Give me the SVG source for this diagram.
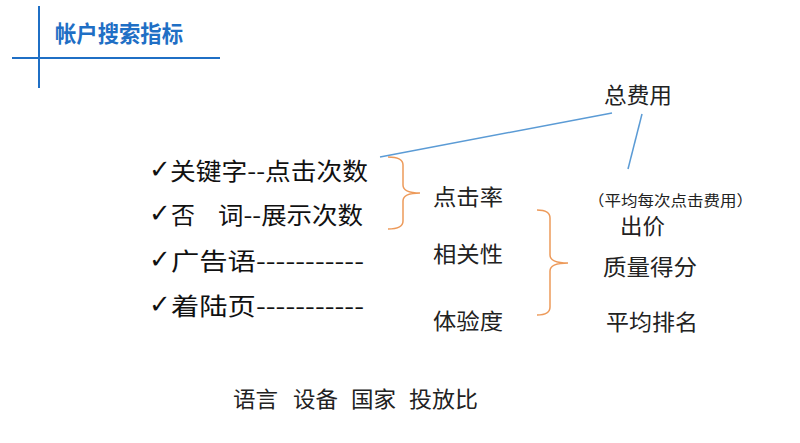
<svg xmlns="http://www.w3.org/2000/svg" width="800" height="443" viewBox="0 0 800 443">
<style>
.hdr{stroke:#1f6fc5;stroke-width:2;fill:none}
.title{font-family:"Noto Sans CJK SC","Liberation Sans",sans-serif;font-weight:bold;font-size:23px;fill:#1f6fc5}
.row{font-family:"Noto Sans CJK SC","Liberation Sans",sans-serif;font-size:24px;fill:#111}
.chk{font-family:"DejaVu Sans",sans-serif;font-size:26px;fill:#111}
.lbl{font-family:"Noto Sans CJK SC","Liberation Sans",sans-serif;font-size:22px;fill:#222}
.small{font-family:"Noto Sans CJK SC","Liberation Sans",sans-serif;font-size:15px;fill:#222}
.blue{stroke:#5b9bd5;stroke-width:1.5;fill:none}
.brace{stroke:#ed9a5a;stroke-width:1.5;fill:none}
</style>
<rect width="800" height="443" fill="#ffffff"/>
<g id="header">
<line class="hdr" x1="39" y1="6" x2="39" y2="88"/>
<line class="hdr" x1="12" y1="58" x2="220" y2="58"/>
<text class="title" x="55" y="42" textLength="128" lengthAdjust="spacingAndGlyphs">帐户搜索指标</text>
</g>
<g id="list">
<g id="row1">
<text class="chk" x="149" y="178">✓</text>
<text class="row" x="170" y="180" textLength="198" lengthAdjust="spacingAndGlyphs">关键字--点击次数</text>
</g>
<g id="row2">
<text class="chk" x="149" y="222">✓</text>
<text class="row" x="171" y="224">否</text>
<text class="row" x="218" y="224" textLength="145" lengthAdjust="spacingAndGlyphs">词--展示次数</text>
</g>
<g id="row3">
<text class="chk" x="149" y="268">✓</text>
<text class="row" x="171" y="270" textLength="193" lengthAdjust="spacingAndGlyphs">广告语-----------</text>
</g>
<g id="row4">
<text class="chk" x="149" y="313">✓</text>
<text class="row" x="171" y="315" textLength="193" lengthAdjust="spacingAndGlyphs">着陆页-----------</text>
</g>
</g>
<g id="total-cost"><text class="lbl" x="604" y="103" textLength="68" lengthAdjust="spacingAndGlyphs">总费用</text></g>
<g id="ctr"><text class="lbl" x="433" y="205" textLength="70" lengthAdjust="spacingAndGlyphs">点击率</text></g>
<g id="relevance"><text class="lbl" x="433" y="262" textLength="70" lengthAdjust="spacingAndGlyphs">相关性</text></g>
<g id="experience"><text class="lbl" x="433" y="329" textLength="70" lengthAdjust="spacingAndGlyphs">体验度</text></g>
<g id="cpc"><text class="small" x="588" y="206" textLength="165" lengthAdjust="spacingAndGlyphs">（平均每次点击费用）</text></g>
<g id="bid"><text class="lbl" x="620" y="234" textLength="45" lengthAdjust="spacingAndGlyphs">出价</text></g>
<g id="quality"><text class="lbl" x="603" y="275" textLength="94" lengthAdjust="spacingAndGlyphs">质量得分</text></g>
<g id="avg-rank"><text class="lbl" x="606" y="330" textLength="92" lengthAdjust="spacingAndGlyphs">平均排名</text></g>
<g id="bottom">
<text class="lbl" x="233" y="407" textLength="45" lengthAdjust="spacingAndGlyphs">语言</text>
<text class="lbl" x="293" y="407" textLength="45" lengthAdjust="spacingAndGlyphs">设备</text>
<text class="lbl" x="351" y="407" textLength="45" lengthAdjust="spacingAndGlyphs">国家</text>
<text class="lbl" x="409" y="407" textLength="69" lengthAdjust="spacingAndGlyphs">投放比</text>
</g>
<g id="connectors">
<line class="blue" x1="380" y1="157" x2="612" y2="113"/>
<line class="blue" x1="642" y1="114" x2="628" y2="169"/>
<path class="brace" d="M388,157 Q403,157 403,165 L403,185 Q403,193 420,193 Q403,193 403,201 L403,221 Q403,229 388,229"/>
<path class="brace" d="M537,210 Q550,210 550,218 L550,255 Q550,263 568,263 Q550,263 550,271 L550,307 Q550,315 537,315"/>
</g>
</svg>
